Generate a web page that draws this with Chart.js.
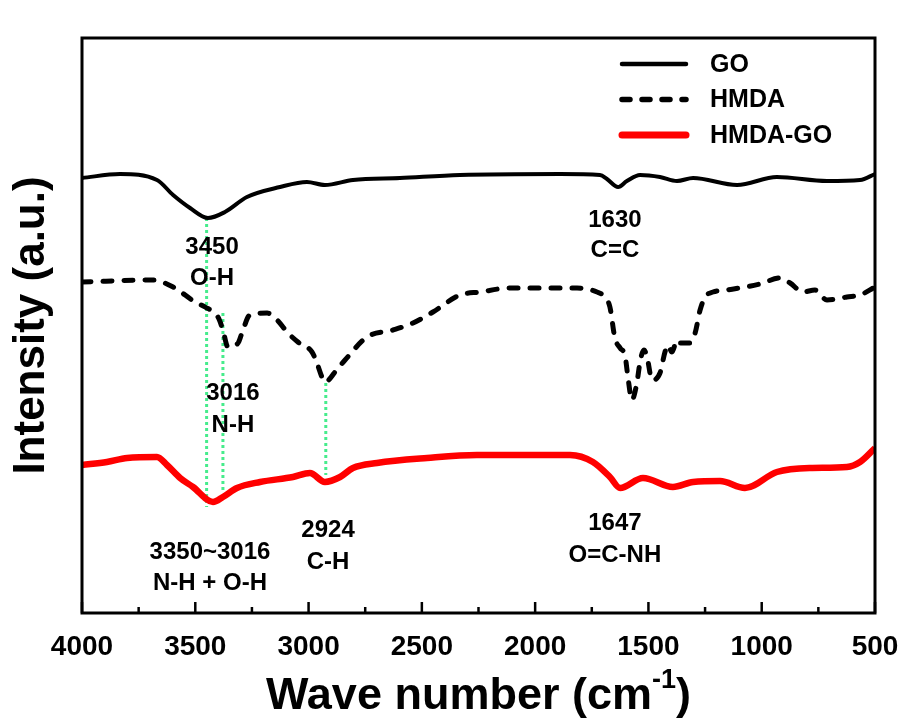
<!DOCTYPE html>
<html>
<head>
<meta charset="utf-8">
<script src="https://cdn.jsdelivr.net/npm/chart.js"></script>
<style>
  html, body { margin: 0; padding: 0; background: #fff; }
  #wrap { width: 904px; height: 723px; }
</style>
</head>
<body>
<div id="wrap"><canvas id="c" width="904" height="723"></canvas></div>
<script>
// FTIR spectra, wave number (cm-1) vs intensity (a.u.)
const goWn = [4000,3832,3669,3598,3523,3444,3369,3272,3126,3007,2928,2804,2597,2332,1890,1714,1683,1634,1595,1537,1449,1374,1303,1109,933,712,566,500];
const goVal = [435,439,433,418,405,395,401,416,426,431,428,433,435,438,439,438,434,426,432,438,436,432,435,428,436,432,433,439];

const hmdaWn = [4000,3687,3598,3501,3457,3400,3378,3356,3311,3294,3259,3183,3139,3091,3047,2985,2963,2941,2928,2870,2839,2742,2627,2539,2451,2332,2243,2111,1815,1727,1692,1670,1648,1625,1603,1590,1573,1551,1537,1520,1506,1484,1449,1427,1414,1396,1374,1361,1317,1294,1272,1250,1215,1153,1008,919,875,818,765,712,624,566,500];
const hmdaVal = [331,333,326,311,306,296,283,266,270,280,298,300,293,280,271,261,250,236,231,245,253,276,283,290,301,318,321,325,325,321,316,306,275,265,257,235,213,230,251,263,256,233,240,261,268,261,273,270,270,280,303,316,321,323,329,335,330,321,323,313,316,318,326];

const hgWn = [4000,3890,3801,3669,3625,3567,3510,3422,3378,3316,3214,3069,2994,2928,2861,2804,2698,2477,2257,2036,1846,1745,1670,1625,1524,1392,1303,1184,1074,933,787,624,566,500];
const hgVal = [148,151,155,156,148,135,126,111,116,125,131,136,140,131,136,145,150,155,158,158,158,151,136,125,135,126,131,132,125,141,145,146,151,165];

// peak marker lines: wave number, top and bottom intensity
const markWn = [3450, 3378, 2924];
const markTop = [395, 300, 230];
const markBottom = [106, 120, 138];

const xTicks = [4000, 3500, 3000, 2500, 2000, 1500, 1000, 500];

// peak labels: [wave number, intensity, text]
const peakLabels = [
  [3426, 366, '3450'], [3426, 335, 'O-H'],
  [1648, 393, '1630'], [1648, 363, 'C=C'],
  [3334, 220, '3016'], [3334, 188, 'N-H'],
  [3435, 61, '3350~3016'], [3435, 30, 'N-H + O-H'],
  [2914, 83, '2924'], [2914, 51, 'C-H'],
  [1648, 90, '1647'], [1648, 58, 'O=C-NH']
];

const FONT = "'Liberation Sans', Arial, Helvetica, sans-serif";
const GREEN = 'rgb(70,236,140)';

const pts = (xs, ys) => xs.map((x, i) => ({ x, y: ys[i] }));

const datasets = [
  { label: 'GO', data: pts(goWn, goVal), borderColor: '#000', borderWidth: 4 },
  { label: 'HMDA', data: pts(hmdaWn, hmdaVal), borderColor: '#000', borderWidth: 5,
    borderDash: [9, 12], borderCapStyle: 'round' },
  { label: 'HMDA-GO', data: pts(hgWn, hgVal), borderColor: '#ff0000', borderWidth: 6.5 }
];
markWn.forEach((w, i) => {
  datasets.push({ label: 'mark' + i, data: [{ x: w, y: markTop[i] }, { x: w, y: markBottom[i] }],
    borderColor: GREEN, borderWidth: 3, borderDash: [3, 3], tension: 0 });
});
datasets.forEach(d => {
  d.pointRadius = 0; d.fill = false;
  if (d.tension === undefined) { d.cubicInterpolationMode = 'monotone'; }
});

const frame = {
  id: 'frame',
  afterDatasetsDraw(chart) {
    const { ctx, chartArea: a, scales: { x, y } } = chart;
    ctx.save();
    // peak labels
    ctx.fillStyle = '#000';
    ctx.font = 'bold 24px ' + FONT;
    ctx.textAlign = 'center';
    ctx.textBaseline = 'middle';
    peakLabels.forEach(p => ctx.fillText(p[2], x.getPixelForValue(p[0]), y.getPixelForValue(p[1])));

    // box
    ctx.strokeStyle = '#000';
    ctx.lineWidth = 3;
    ctx.setLineDash([]);
    ctx.strokeRect(a.left, a.top, a.right - a.left, a.bottom - a.top);

    // inward ticks, major + minor
    ctx.lineWidth = 2.5;
    for (let v = 500; v <= 4000; v += 250) {
      const px = x.getPixelForValue(v);
      const len = v % 500 === 0 ? 11 : 6;
      ctx.beginPath();
      ctx.moveTo(px, a.bottom);
      ctx.lineTo(px, a.bottom - len);
      ctx.stroke();
    }

    // legend
    const items = chart.data.datasets.slice(0, 3);
    ctx.font = 'bold 25px ' + FONT;
    ctx.textAlign = 'left';
    items.forEach((d, i) => {
      const ly = 64 + i * 35.5;
      ctx.beginPath();
      ctx.strokeStyle = d.borderColor;
      ctx.lineWidth = d.borderWidth + 0.5;
      ctx.lineCap = 'round';
      ctx.setLineDash(d.borderDash ? [8, 12] : []);
      ctx.moveTo(622, ly);
      ctx.lineTo(686, ly);
      ctx.stroke();
      ctx.fillStyle = '#000';
      ctx.fillText(d.label, 710, ly + 1);
    });
    ctx.setLineDash([]);

    // x axis title with superscript
    const main = 'Wave number (cm';
    const sup = '-1';
    ctx.font = 'bold 45px ' + FONT;
    const w1 = ctx.measureText(main).width;
    const w3 = ctx.measureText(')').width;
    ctx.font = 'bold 27px ' + FONT;
    const w2 = ctx.measureText(sup).width;
    const cx = (a.left + a.right) / 2;
    let sx = cx - (w1 + w2 + w3) / 2;
    const base = 709;
    ctx.textBaseline = 'alphabetic';
    ctx.font = 'bold 45px ' + FONT;
    ctx.fillText(main, sx, base);
    ctx.font = 'bold 27px ' + FONT;
    ctx.fillText(sup, sx + w1, base - 21);
    ctx.font = 'bold 45px ' + FONT;
    ctx.fillText(')', sx + w1 + w2, base);
    ctx.restore();
  }
};

new Chart(document.getElementById('c'), {
  type: 'line',
  data: { datasets },
  options: {
    responsive: false,
    animation: false,
    devicePixelRatio: 1,
    layout: { padding: { top: 38, right: 29, left: 0, bottom: 0 } },
    plugins: { legend: { display: false }, tooltip: { enabled: false } },
    scales: {
      x: {
        type: 'linear', reverse: true, min: 500, max: 4000,
        afterFit: s => { s.height = 110; s.paddingLeft = 0; s.paddingRight = 0; },
        afterBuildTicks: s => { s.ticks = xTicks.map(v => ({ value: v })); },
        grid: { display: false, drawTicks: false },
        border: { display: false },
        ticks: { autoSkip: false, maxRotation: 0, padding: 17, color: '#000',
                 callback: v => String(v),
                 font: { family: FONT, size: 28, weight: 'bold' } }
      },
      y: {
        min: 0, max: 575,
        afterFit: s => { s.width = 82; },
        grid: { display: false, drawTicks: false },
        border: { display: false },
        ticks: { display: false },
        title: { display: true, text: 'Intensity (a.u.)', color: '#000',
                 padding: { top: 5, bottom: 0 },
                 font: { family: FONT, size: 44, weight: 'bold' } }
      }
    }
  },
  plugins: [frame]
});
</script>
</body>
</html>
